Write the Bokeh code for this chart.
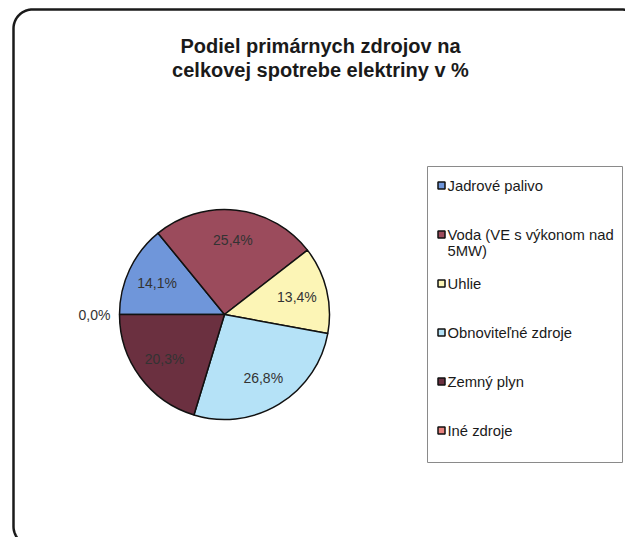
import numpy as np
from bokeh.plotting import figure
from bokeh.models import Range1d
from bokeh.core.properties import value
from bokeh.embed import file_html
from bokeh.resources import INLINE

# ---- data ----
title_lines = ["Podiel primárnych zdrojov na", "celkovej spotrebe elektriny v %"]
categories = ["Jadrové palivo", "Voda (VE s výkonom nad\n5MW)", "Uhlie",
              "Obnoviteľné zdroje", "Zemný plyn", "Iné zdroje"]
shares = [14.1, 25.4, 13.4, 26.8, 20.3, 0.0]
share_labels = ["14,1%", "25,4%", "13,4%", "26,8%", "20,3%", "0,0%"]
colors = ["#6f96da", "#9b4b5c", "#fcf5b6", "#b5e2f7", "#6b3040", "#e8837f"]

W, H = 625, 537
FONT = value("Liberation Sans")


def fx(x):
    return x


def fy(y):
    return H - y


p = figure(width=W, height=H, x_range=Range1d(0, W), y_range=Range1d(0, H),
           output_backend="svg", toolbar_location=None, min_border=0,
           x_axis_location=None, y_axis_location=None)
p.grid.visible = False
p.outline_line_color = None
p.background_fill_color = "white"

# ---- rounded outer frame ----
L, T, R, B, rad = 13, 9, 640, 545, 19
pts = []
def arc(cx, cy, a0, a1):
    t = np.linspace(a0, a1, 20)
    return list(zip(cx + rad * np.cos(t), cy + rad * np.sin(t)))
pts += arc(L + rad, T + rad, np.pi, 1.5 * np.pi)
pts += arc(R - rad, T + rad, 1.5 * np.pi, 2 * np.pi)
pts += arc(R - rad, B - rad, 0, 0.5 * np.pi)
pts += arc(L + rad, B - rad, 0.5 * np.pi, np.pi)
pts.append(pts[0])
p.line([fx(a) for a, b in pts], [fy(b) for a, b in pts], line_color="#1a1a1a", line_width=2.5)

# ---- title ----
p.text(x=[fx(320)] * 2, y=[fy(45), fy(69)], text=title_lines, text_font=FONT,
       text_font_size="20px", text_font_style="bold", text_align="center",
       text_baseline="middle", text_color="#1a1a1a")

# ---- pie ----
cx, cy, r = fx(224), fy(314), 105
start = np.pi
for share, col, lab in zip(shares, colors, share_labels):
    end = start - share / 100.0 * 2 * np.pi
    if share > 0:
        p.wedge(x=cx, y=cy, radius=r, start_angle=end, end_angle=start,
                fill_color=col, line_color="#111111", line_width=1.5)
    mid = (start + end) / 2
    d = 0.71 * r if share > 0 else r + 25
    p.text(x=[cx + d * np.cos(mid)], y=[cy + d * np.sin(mid)], text=[lab],
           text_font=FONT, text_font_size="14px", text_align="center",
           text_baseline="middle", text_color="#333333")
    start = end

# ---- legend ----
p.quad(left=fx(427), right=fx(622), top=fy(166), bottom=fy(462),
       fill_color="white", line_color="#8a8a8a", line_width=1)
for i, (cat, col) in enumerate(zip(categories, colors)):
    iy = 185 + 49 * i
    p.rect(x=fx(441), y=fy(iy), width=7, height=7, fill_color=col,
           line_color="#111111", line_width=1.5)
    p.text(x=[fx(447)], y=[fy(iy - 8)], text=[cat], text_font=FONT,
           text_font_size="14.8px", text_align="left", text_baseline="top",
           text_color="#1a1a1a", text_line_height=1.0)

open("out.html", "w").write(file_html(p, INLINE))
